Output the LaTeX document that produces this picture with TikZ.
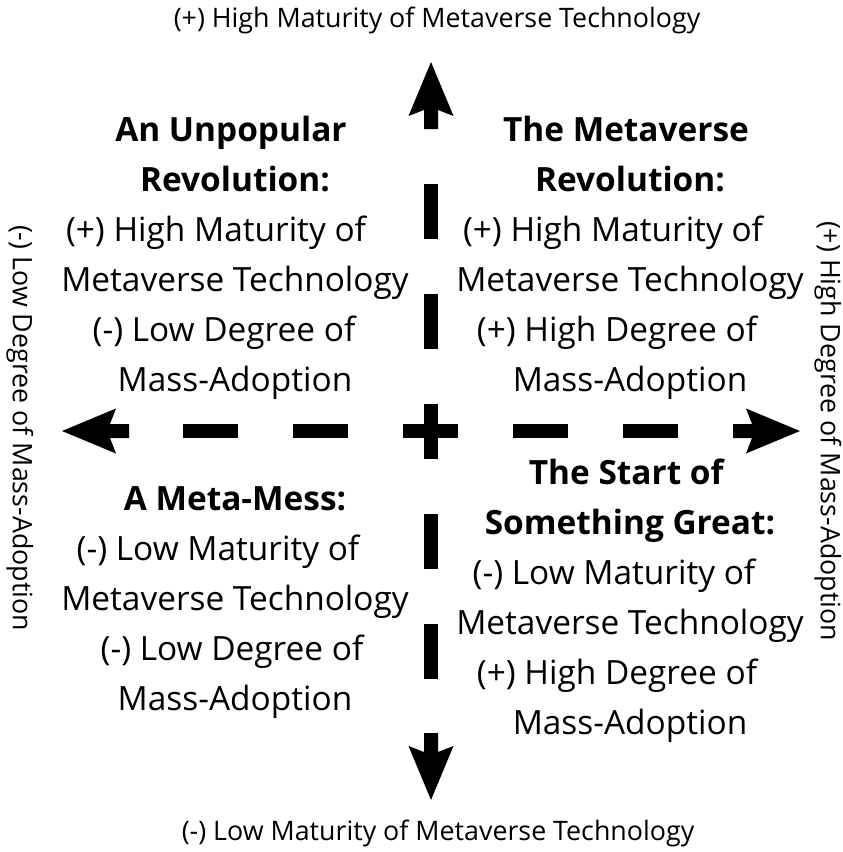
\documentclass[tikz,border=0pt]{standalone}
\usepackage{fontspec}
\setmainfont{Open Sans}
% trailing room at the end of a centred line, nudging it to the left
\newcommand\padr[1]{\kern#1pt}
\begin{document}
\begin{tikzpicture}[x=1pt,y=-1pt,
  quad/.style={align=center,inner sep=0pt,anchor=base,font=\fontsize{33.4}{50}\selectfont},
  edge/.style={inner sep=0pt,font=\fontsize{26.8}{30}\selectfont},
  dashline/.style={line width=14.5pt,dash pattern=on 55pt off 55pt},
  arrowhd/.style={fill=black}]
\useasboundingbox (0,0) rectangle (843,852);
\coordinate (o) at (431,431);

% dashed cross through the centre
\draw[dashline] ([yshift=-248pt]o) -- ([yshift=248pt]o);
\draw[dashline] ([xshift=-248pt]o) -- ([xshift=248pt]o);

% arrowheads with short shafts, one per direction
\foreach \ang in {0,90,180,270}{
  \fill[arrowhd,shift={(o)},rotate=\ang]
    (302,7) -- (321,7) -- (315,22.5) -- (369,0) -- (315,-22.5) -- (321,-7) -- (302,-7) -- cycle;
}

% axis labels
\node[edge] (top) at (437,20) {(+) High Maturity of Metaverse Technology};
\node[edge] (bottom) at (438,833) {(-) Low Maturity of Metaverse Technology};
\node[edge,rotate=-90] (left) at (20,428) {(-) Low Degree of Mass-Adoption};
\node[edge,rotate=-90] (right) at (828,431) {(+) High Degree of Mass-Adoption};

% quadrant descriptions (anchored at the baseline of the last line)
\node[quad] (tl) at (235,391) {\textbf{An Unpopular}\padr{8}\\\textbf{Revolution:}\\(+) High Maturity of\padr{38}\\Metaverse Technology\\(-) Low Degree of\padr{22}\\Mass-Adoption};
\node[quad] (tr) at (630,391) {\textbf{The Metaverse}\padr{8}\\\textbf{Revolution:}\\(+) High Maturity of\padr{34}\\Metaverse Technology\\(+) High Degree of\padr{26}\\Mass-Adoption};
\node[quad] (bl) at (235,710) {\textbf{A Meta-Mess:}\\(-) Low Maturity of\padr{34}\\Metaverse Technology\\(-) Low Degree of\padr{6}\\Mass-Adoption};
\node[quad] (br) at (630,734) {\textbf{The Start of}\padr{6}\\\textbf{Something Great:}\\(-) Low Maturity of\padr{32}\\Metaverse Technology\\(+) High Degree of\padr{26}\\Mass-Adoption};
\end{tikzpicture}
\end{document}
